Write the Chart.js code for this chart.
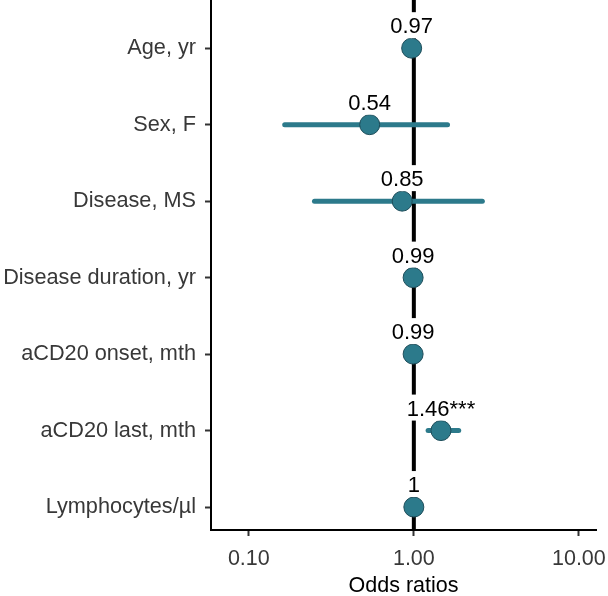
<!DOCTYPE html>
<html>
<head>
<meta charset="utf-8">
<script src="https://cdn.jsdelivr.net/npm/chart.js@4"></script>
<style>
  html, body { margin: 0; padding: 0; background: #fff; }
  #wrap { width: 608px; height: 596px; }
</style>
</head>
<body>
<div id="wrap"><canvas id="c"></canvas></div>
<script>
// rows, top to bottom
const categories = ["Age, yr", "Sex, F", "Disease, MS", "Disease duration, yr", "aCD20 onset, mth", "aCD20 last, mth", "Lymphocytes/µl"];
const oddsRatios = [0.97, 0.54, 0.85, 0.99, 0.99, 1.46, 1.00];
const ciLow = [0.95, 0.165, 0.25, 0.97, 0.98, 1.22, 0.999];
const ciHigh = [0.99, 1.6, 2.6, 1.01, 1.00, 1.87, 1.001];
const pointLabels = ["0.97", "0.54", "0.85", "0.99", "0.99", "1.46***", "1"];
const xTicks = [0.1, 1, 10];

const teal = "#2c7a8b";
const FONT = "'Liberation Sans', Arial, sans-serif";
const n = categories.length;
const rowY = i => n - i;

// punkte zuerst (order 0 = oben gezeichnet), dann die Fehlerbalken
const datasets = [{
  type: "scatter",
  data: oddsRatios.map((v, i) => ({ x: v, y: rowY(i) })),
  pointRadius: 10,
  pointBackgroundColor: teal,
  pointBorderColor: "#1e4d5a",
  pointBorderWidth: 1
}];
categories.forEach((c, i) => {
  datasets.push({
    type: "line",
    data: [{ x: ciLow[i], y: rowY(i) }, { x: ciHigh[i], y: rowY(i) }],
    borderColor: teal,
    borderWidth: 5,
    borderCapStyle: "round",
    pointRadius: 0
  });
});

// senkrechte Linie bei OR = 1
const refLine = {
  id: "refLine",
  beforeDatasetsDraw(chart) {
    const { ctx, chartArea, scales } = chart;
    const x = scales.x.getPixelForValue(1);
    ctx.save();
    ctx.strokeStyle = "#000";
    ctx.lineWidth = 4;
    ctx.beginPath();
    ctx.moveTo(x, chartArea.top);
    ctx.lineTo(x, chartArea.bottom);
    ctx.stroke();
    ctx.restore();
  }
};

// Beschriftungen mit weissem Hintergrund
const valueLabels = {
  id: "valueLabels",
  afterDatasetsDraw(chart) {
    const { ctx, scales } = chart;
    ctx.save();
    ctx.font = "22px " + FONT;
    ctx.textAlign = "center";
    ctx.textBaseline = "middle";
    oddsRatios.forEach((v, i) => {
      const px = scales.x.getPixelForValue(v);
      const py = scales.y.getPixelForValue(rowY(i));
      const ty = py - 22;
      const w = ctx.measureText(pointLabels[i]).width;
      ctx.fillStyle = "#fff";
      ctx.fillRect(px - w / 2 - 5, ty - 14, w + 10, 26);
      ctx.fillStyle = "#000";
      ctx.fillText(pointLabels[i], px, ty + 1);
    });
    ctx.restore();
  }
};

new Chart(document.getElementById("c"), {
  type: "scatter",
  data: { datasets: datasets },
  options: {
    responsive: true,
    maintainAspectRatio: false,
    animation: false,
    layout: { autoPadding: false, padding: { top: 0, right: 12, bottom: 0, left: 0 } },
    plugins: { legend: { display: false }, tooltip: { enabled: false } },
    scales: {
      x: {
        type: "logarithmic",
        min: 0.059,
        max: 12.7,
        afterBuildTicks: s => { s.ticks = xTicks.map(v => ({ value: v })); },
        afterFit: s => { s.height = 66; s.paddingLeft = 0; s.paddingRight = 0; },
        ticks: {
          callback: v => Number(v).toFixed(2),
          font: { family: FONT, size: 21.5 },
          color: "#383838",
          padding: 10,
          autoSkip: false,
          maxRotation: 0
        },
        grid: { drawOnChartArea: false, drawTicks: true, tickLength: 6, tickColor: "#333", tickWidth: 2 },
        border: { display: true, color: "#000", width: 2 },
        title: {
          display: true,
          text: "Odds ratios",
          font: { family: FONT, size: 21.5 },
          color: "#000",
          padding: { top: 0, bottom: -3 }
        }
      },
      y: {
        type: "linear",
        min: 0.7,
        max: 7.63,
        afterBuildTicks: s => { s.ticks = categories.map((c, i) => ({ value: rowY(i) })); },
        afterFit: s => { s.width = 211; s.paddingTop = 0; s.paddingBottom = 0; },
        ticks: {
          callback: v => categories[n - v],
          font: { family: FONT, size: 21.7 },
          color: "#383838",
          padding: 9
        },
        grid: { drawOnChartArea: false, drawTicks: true, tickLength: 6, tickColor: "#333", tickWidth: 2 },
        border: { display: true, color: "#000", width: 2 }
      }
    }
  },
  plugins: [refLine, valueLabels]
});
</script>
</body>
</html>
